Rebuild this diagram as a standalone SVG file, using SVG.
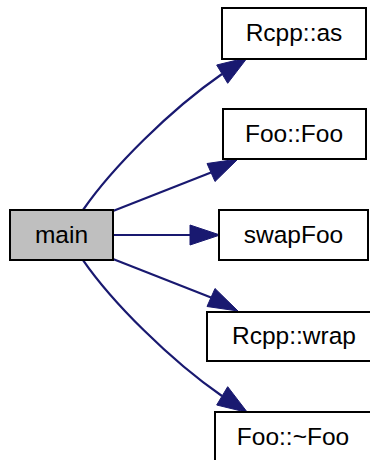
<svg xmlns="http://www.w3.org/2000/svg" width="370" height="460" viewBox="0 0 370 460">
<style>
.node rect{fill:#ffffff;stroke:#000000;stroke-width:2}
.node text{font-family:"Liberation Sans",Arial,sans-serif;font-size:24.5px;fill:#000000;text-anchor:middle}
.edge path{fill:none;stroke:#191970;stroke-width:2.2}
.edge polygon{fill:#191970;stroke:#191970;stroke-width:1}
</style>
<rect width="370" height="460" fill="#ffffff"/>
<g id="edges" class="edge">
<path d="M83,210 C112,168 170,110 222,74"/>
<polygon points="247.5,57.5 216.7,65 227.7,83.3"/>
<path d="M113,211 L211,172.5"/>
<polygon points="238,159 207,163.5 215,181.5"/>
<path d="M113,235 L191,235"/>
<polygon points="220,235 190,225 190,245"/>
<path d="M113,259 L211,297.5"/>
<polygon points="238,311 207,306.5 215,288.5"/>
<path d="M83,260 C112,302 170,360 222,396"/>
<polygon points="247.5,412.5 216.7,405 227.7,386.7"/>
</g>
<g id="node-main" class="node">
<rect x="10" y="210" width="103" height="50" style="fill:#bfbfbf"/>
<text x="61.5" y="242.5">main</text>
</g>
<g id="node-rcpp-as" class="node">
<rect x="222" y="8" width="144" height="51"/>
<text x="294" y="41">Rcpp::as</text>
</g>
<g id="node-foo-foo" class="node">
<rect x="223" y="109" width="143" height="50"/>
<text x="294" y="141.5">Foo::Foo</text>
</g>
<g id="node-swapfoo" class="node">
<rect x="219" y="210" width="149" height="50"/>
<text x="293.5" y="242.5">swapFoo</text>
</g>
<g id="node-rcpp-wrap" class="node">
<rect x="207" y="312" width="174" height="49"/>
<text x="294" y="344">Rcpp::wrap</text>
</g>
<g id="node-foo-dtor" class="node">
<rect x="215" y="412" width="156" height="50"/>
<text x="293" y="444.5">Foo::~Foo</text>
</g>
</svg>
